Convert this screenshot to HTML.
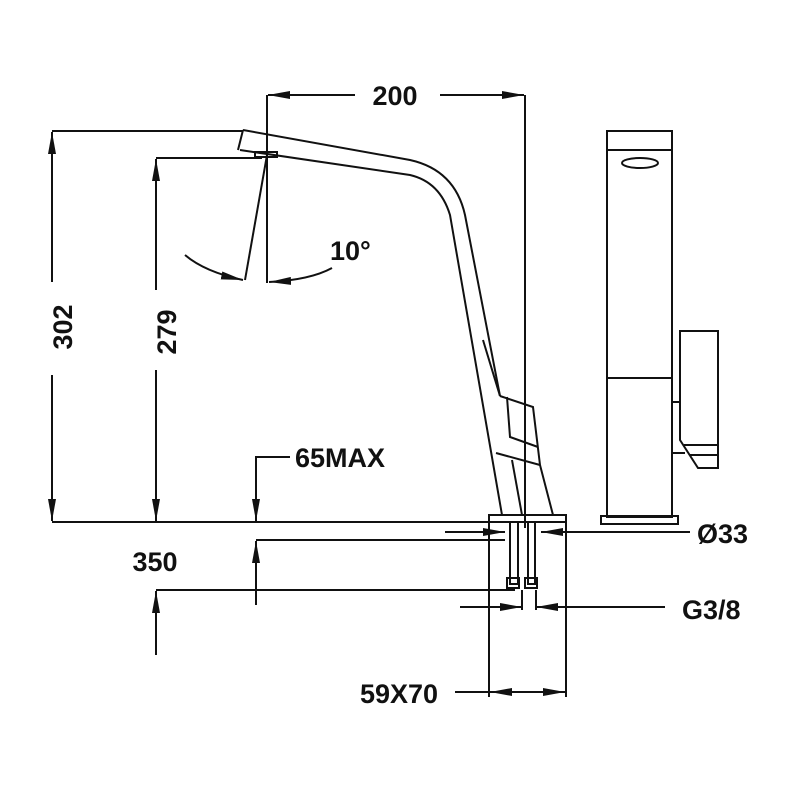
<!DOCTYPE html>
<html><head><meta charset="utf-8"><style>
html,body{margin:0;padding:0;background:#fff;width:800px;height:800px;overflow:hidden}
svg text{font-family:"Liberation Sans",sans-serif;font-weight:bold;fill:#111}
</style></head><body>
<svg width="800" height="800" viewBox="0 0 800 800" xmlns="http://www.w3.org/2000/svg">
<defs>
<marker id="a" viewBox="0 0 22 8" refX="22" refY="4" markerWidth="22" markerHeight="8" markerUnits="userSpaceOnUse" orient="auto"><path d="M0,0 L22,4 L0,8 Z" fill="#111"/></marker>
</defs>
<g stroke="#111" stroke-width="2" fill="none">
<line x1="267" y1="95" x2="267" y2="283"/>
<line x1="525" y1="95" x2="525" y2="528"/>
<line x1="355" y1="95" x2="268" y2="95" marker-end="url(#a)"/>
<line x1="440" y1="95" x2="524" y2="95" marker-end="url(#a)"/>
<line x1="52" y1="131" x2="243" y2="131"/>
<line x1="52" y1="282" x2="52" y2="132" marker-end="url(#a)"/>
<line x1="52" y1="375" x2="52" y2="521" marker-end="url(#a)"/>
<line x1="156" y1="158" x2="262" y2="158"/>
<line x1="156" y1="290" x2="156" y2="159" marker-end="url(#a)"/>
<line x1="156" y1="370" x2="156" y2="521" marker-end="url(#a)"/>
<line x1="52" y1="522" x2="490" y2="522"/>
<polyline points="290,457 256,457 256,521" marker-end="url(#a)"/>
<line x1="256" y1="540" x2="505" y2="540"/>
<line x1="256" y1="605" x2="256" y2="541" marker-end="url(#a)"/>
<line x1="156" y1="590" x2="515" y2="590"/>
<line x1="156" y1="655" x2="156" y2="591" marker-end="url(#a)"/>
<line x1="267" y1="155" x2="245" y2="280"/>
<path d="M185,255 Q205,272 243,280" marker-end="url(#a)"/>
<path d="M332,268 Q310,280 269,282" marker-end="url(#a)"/>
<path d="M243,130 L410,160 Q455,170 465,215 L500,396"/>
<path d="M240,150 L410,175 Q440,182 450,215 L502,515"/>
<path d="M243,130 L238,150"/>
<rect x="255" y="152" width="22" height="5"/>
<path d="M500,396 L533,407 L540,465 L553,515"/>
<path d="M507,397 L510,437 L538,447"/>
<path d="M496,453 L540,465"/>
<path d="M512,460 L522,515"/>
<path d="M483,340 L500,396"/>
<rect x="489" y="515" width="77" height="7"/>
<line x1="489" y1="522" x2="489" y2="697"/>
<line x1="566" y1="522" x2="566" y2="697"/>
<rect x="510" y="522" width="8" height="62"/>
<rect x="528" y="522" width="7" height="62"/>
<rect x="507" y="578" width="12" height="10"/>
<rect x="525" y="578" width="12" height="10"/>
<line x1="445" y1="532" x2="505" y2="532" marker-end="url(#a)"/>
<line x1="690" y1="532" x2="541" y2="532" marker-end="url(#a)"/>
<line x1="460" y1="607" x2="522" y2="607" marker-end="url(#a)"/>
<line x1="665" y1="607" x2="536" y2="607" marker-end="url(#a)"/>
<line x1="522" y1="590" x2="522" y2="610"/>
<line x1="536" y1="590" x2="536" y2="610"/>
<line x1="455" y1="692" x2="489" y2="692"/>
<line x1="527" y1="692" x2="490" y2="692" marker-end="url(#a)"/>
<line x1="527" y1="692" x2="565" y2="692" marker-end="url(#a)"/>
<rect x="607" y="131" width="65" height="386"/>
<line x1="607" y1="150" x2="672" y2="150"/>
<ellipse cx="640" cy="163" rx="18" ry="5"/>
<line x1="607" y1="378" x2="672" y2="378"/>
<rect x="601" y="516" width="77" height="8"/>
<path d="M680,440 L680,331 L718,331 L718,468 L698,468 Z"/>
<line x1="684" y1="445" x2="718" y2="445"/>
<line x1="690" y1="455" x2="718" y2="455"/>
<line x1="672" y1="402" x2="680" y2="402"/>
<line x1="672" y1="453" x2="685" y2="453"/>
</g>
<g font-size="27">
<text x="395" y="105" text-anchor="middle">200</text>
<text x="330" y="260">10°</text>
<text transform="translate(72,327) rotate(-90)" text-anchor="middle">302</text>
<text transform="translate(176,332) rotate(-90)" text-anchor="middle">279</text>
<text x="295" y="467">65MAX</text>
<text x="155" y="571" text-anchor="middle">350</text>
<text x="697" y="543">Ø33</text>
<text x="682" y="619">G3/8</text>
<text x="360" y="703">59X70</text>
</g>
</svg>
</body></html>
